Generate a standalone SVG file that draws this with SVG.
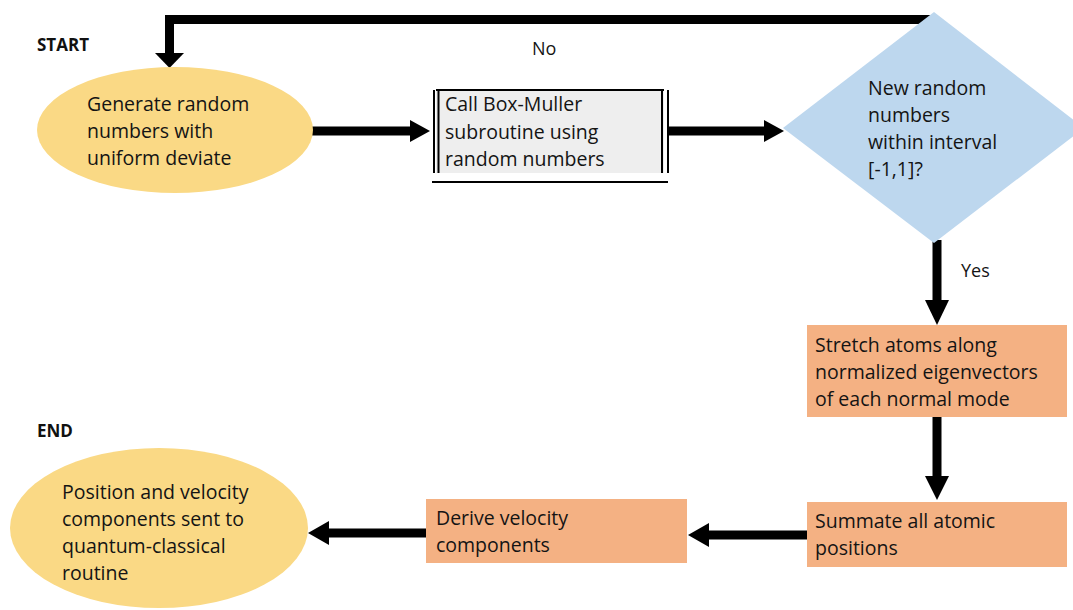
<svg xmlns="http://www.w3.org/2000/svg" width="1073" height="610" viewBox="0 0 1073 610">
  <defs>
    <style>
      .t { font-family: "Open Sans", "Liberation Sans", sans-serif; font-size: 19.5px; fill: #141414; }
      .lbl { font-family: "Open Sans", "Liberation Sans", sans-serif; font-size: 18px; fill: #141414; }
      .hd { font-family: "Open Sans", "Liberation Sans", sans-serif; font-size: 17px; font-weight: bold; fill: #111; }
      .term { fill: #fad985; }
      .proc { fill: #f4b183; }
      .dec { fill: #bdd7ee; }
      .sub { fill: #eeeeee; }
      .edge { stroke: #000; stroke-width: 9; fill: none; }
      .head { fill: #000; }
    </style>
  </defs>

  <rect width="1073" height="610" fill="#ffffff"/>

  <!-- Connectors (drawn first so shapes sit on top) -->
  <g id="connectors">
    <!-- "No" loop back to start -->
    <path class="edge" d="M 933 19.5 H 169.5 V 54" stroke-width="13"/>
    <polygon class="head" points="155,53 184,53 169.5,68"/>
    <!-- generate -> Box-Muller -->
    <line class="edge" x1="312" y1="131" x2="412" y2="131"/>
    <polygon class="head" points="410,120 430,131 410,142"/>
    <!-- Box-Muller -> decision -->
    <line class="edge" x1="668" y1="131" x2="766" y2="131"/>
    <polygon class="head" points="764,120 784,131 764,142"/>
    <!-- decision -> stretch (Yes) -->
    <line class="edge" x1="937" y1="240" x2="937" y2="302"/>
    <polygon class="head" points="925,300 949,300 937,325"/>
    <!-- stretch -> summate -->
    <line class="edge" x1="937" y1="417" x2="937" y2="478"/>
    <polygon class="head" points="925,476 949,476 937,500"/>
    <!-- summate -> derive -->
    <line class="edge" x1="807" y1="535" x2="706" y2="535"/>
    <polygon class="head" points="709,523 688,535 709,547"/>
    <!-- derive -> end -->
    <line class="edge" x1="426" y1="533" x2="326" y2="533"/>
    <polygon class="head" points="329,521 308,533 329,545"/>
    <text class="lbl" x="532" y="55">No</text>
    <text class="lbl" x="961" y="277">Yes</text>
  </g>

  <text class="hd" x="37" y="51">START</text>
  <text class="hd" x="37" y="437">END</text>

  <g id="generate">
    <ellipse class="term" cx="175" cy="130" rx="138" ry="63"/>
    <text class="t" x="87" y="111">Generate random</text>
    <text class="t" x="87" y="138">numbers with</text>
    <text class="t" x="87" y="165">uniform deviate</text>
  </g>

  <g id="box-muller">
    <rect class="sub" x="436" y="90" width="228" height="83"/>
    <g stroke="#000" stroke-width="2" fill="none">
      <line x1="436" y1="90" x2="664" y2="90"/>
      <line x1="434" y1="90" x2="434" y2="173"/>
      <line x1="438.5" y1="90" x2="438.5" y2="173"/>
      <line x1="662" y1="90" x2="662" y2="173"/>
      <line x1="668" y1="90" x2="668" y2="173"/>
      <line x1="432" y1="182" x2="668" y2="182"/>
    </g>
    <text class="t" x="445" y="111">Call Box-Muller</text>
    <text class="t" x="445" y="139">subroutine using</text>
    <text class="t" x="445" y="166">random numbers</text>
  </g>

  <g id="decision">
    <polygon class="dec" points="934,12 1084,128 934,243 783,128"/>
    <text class="t" x="868" y="95">New random</text>
    <text class="t" x="868" y="122">numbers</text>
    <text class="t" x="868" y="149">within interval</text>
    <text class="t" x="868" y="176">[-1,1]?</text>
  </g>

  <g id="stretch">
    <rect class="proc" x="807" y="325" width="260" height="92"/>
    <text class="t" x="815" y="352">Stretch atoms along</text>
    <text class="t" x="815" y="379">normalized eigenvectors</text>
    <text class="t" x="815" y="406">of each normal mode</text>
  </g>

  <g id="summate">
    <rect class="proc" x="807" y="502" width="260" height="65"/>
    <text class="t" x="815" y="528">Summate all atomic</text>
    <text class="t" x="815" y="555">positions</text>
  </g>

  <g id="derive">
    <rect class="proc" x="426" y="499" width="261" height="64"/>
    <text class="t" x="436" y="525">Derive velocity</text>
    <text class="t" x="436" y="552">components</text>
  </g>

  <g id="end">
    <ellipse class="term" cx="159" cy="528" rx="149" ry="80"/>
    <text class="t" x="62" y="499">Position and velocity</text>
    <text class="t" x="62" y="526">components sent to</text>
    <text class="t" x="62" y="553">quantum-classical</text>
    <text class="t" x="62" y="580">routine</text>
  </g>
</svg>
